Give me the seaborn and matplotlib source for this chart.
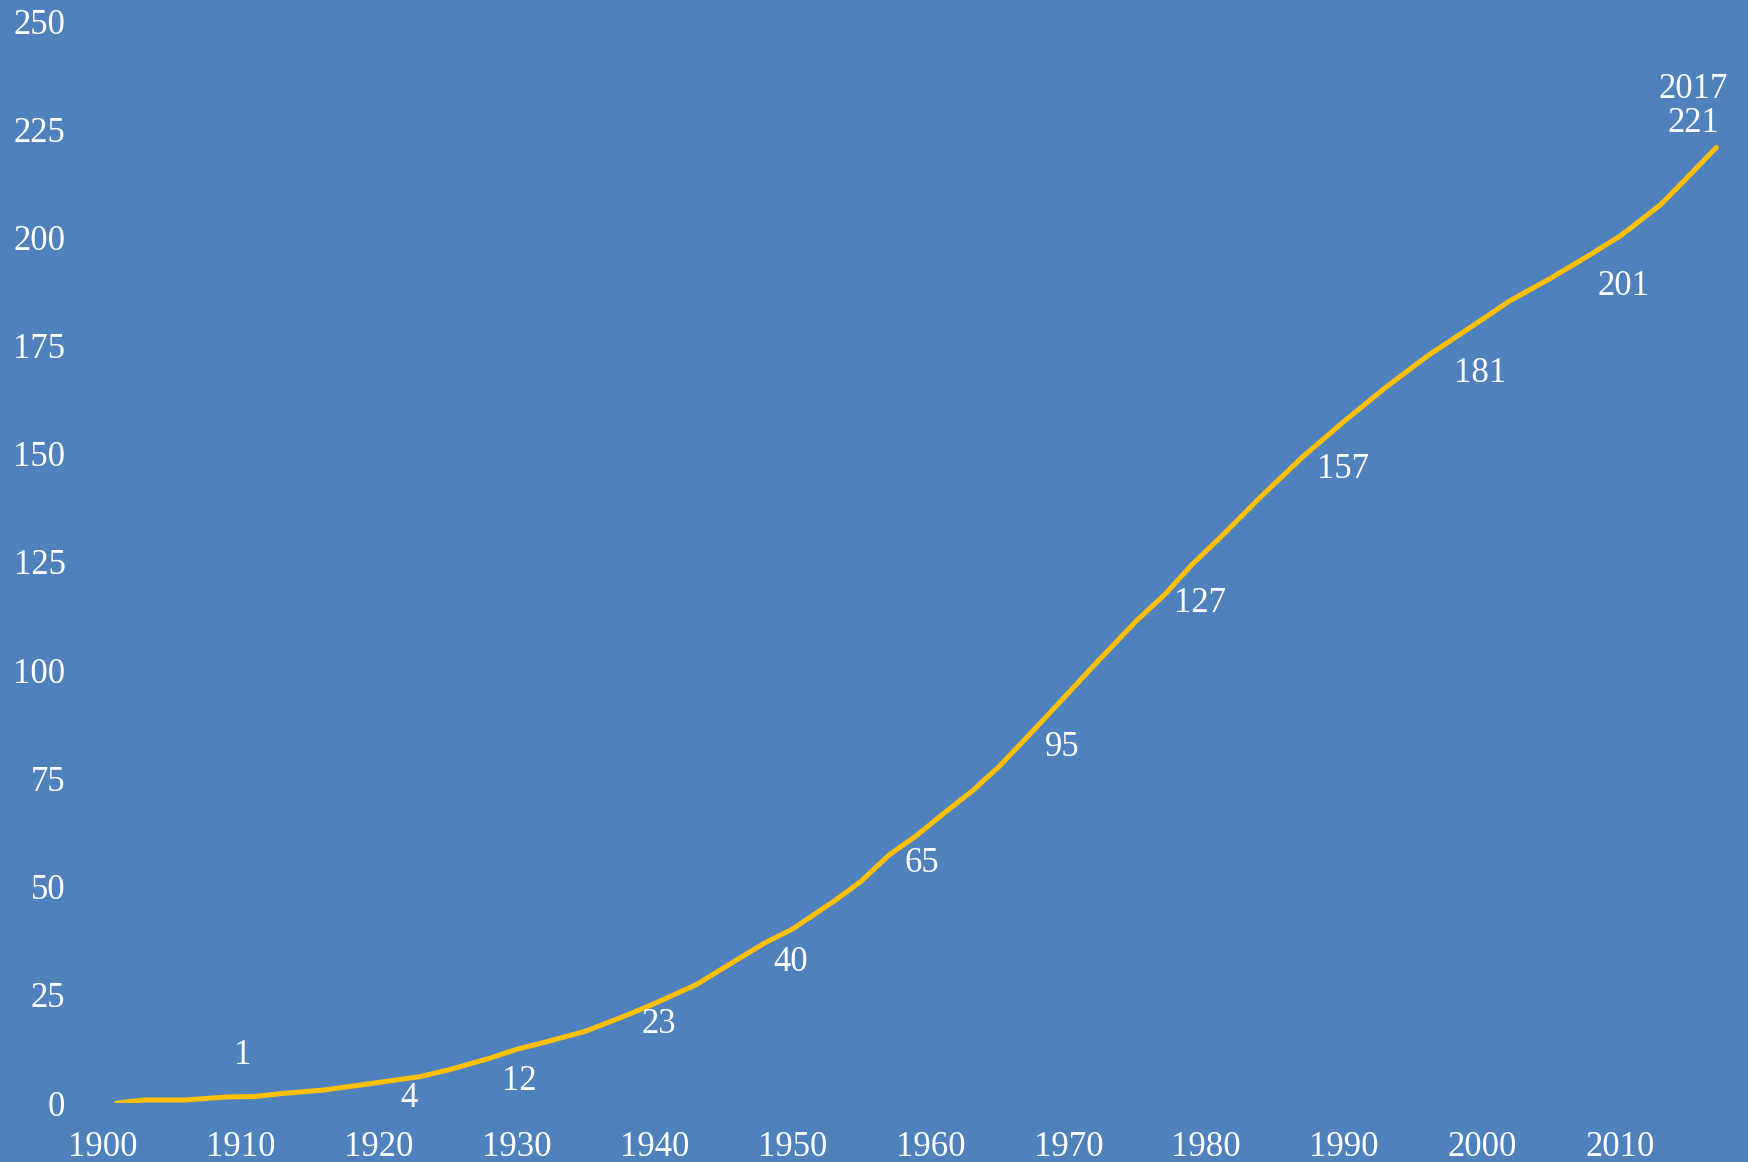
import numpy as np
import pandas as pd
import matplotlib
matplotlib.use("Agg")
import matplotlib.pyplot as plt
import seaborn as sns

# valores
years = [1901, 1903, 1906, 1909, 1911, 1913, 1916, 1919, 1923, 1925, 1928, 1930,
         1932, 1935, 1938, 1940, 1943, 1945, 1948, 1950, 1953, 1955, 1957, 1959,
         1961, 1963, 1965, 1967, 1970, 1972, 1975, 1977, 1979, 1981, 1984, 1987,
         1990, 1993, 1996, 2000, 2002, 2005, 2008, 2010, 2011, 2013, 2015, 2017]
values = [0, 0.7, 0.7, 1.4, 1.5, 2.2, 3, 4.3, 6.1, 7.6, 10.3, 12.4,
          14, 16.6, 20.3, 23, 27.3, 31.2, 37, 40.2, 46.6, 51.3, 57.3, 61.8,
          67, 72, 77.8, 84.5, 94.7, 101.6, 111.6, 117.5, 124.5, 130.6, 140.2, 149.3,
          157.5, 165.3, 172.5, 181, 185.3, 190.6, 196.3, 200.3, 202.7, 207.7, 214.2, 220.8]

label_years = [1910, 1920, 1930, 1940, 1950, 1960, 1970, 1980, 1990, 2000, 2010, 2017]
label_values = [1, 4, 12, 23, 40, 65, 95, 127, 157, 181, 201, 221]
label_texts = ["1", "4", "12", "23", "40", "65", "95", "127", "157", "181", "201", "2017\n221"]
# desplazamientos en pixeles (dx, dy hacia arriba)
label_offsets = [(2, 43), (30, -13), (3, -30), (4, -21), (-2, -33), (-9, -42),
                 (-6, -56), (-6, -50), (-1, -46), (-2, -54), (4, -53), (-23, 40)]

x_ticks = list(range(1900, 2011, 10))
y_ticks = list(range(0, 251, 25))

bg = "#4F81BD"
line_color = "#FFC000"

sns.set_theme(style="white")
plt.rcParams["font.family"] = ["Liberation Serif", "DejaVu Serif"]

df = pd.DataFrame({"year": years, "value": values})

fig = plt.figure(figsize=(17.49, 11.62), dpi=100, facecolor=bg)
W, H = 1749, 1162
px_year = 13.79
ax = fig.add_axes([103 / W, 59 / H, px_year * 117.5 / W, 1082 / H])
ax.set_facecolor(bg)

sns.lineplot(data=df, x="year", y="value", ax=ax, color=line_color, linewidth=3.6)

ax.set_xlim(1900, 2017.5)
ax.set_ylim(0, 250)
ax.set_xticks(x_ticks)
ax.set_yticks(y_ticks)
ax.set_xlabel("")
ax.set_ylabel("")
ax.tick_params(axis="both", length=0, colors="white", labelsize=25)
ax.tick_params(axis="y", pad=27)
ax.tick_params(axis="x", pad=20)
for s in ax.spines.values():
    s.set_visible(False)
ax.grid(False)

for yr, v, t, (dx, dy) in zip(label_years, label_values, label_texts, label_offsets):
    ax.annotate(t, xy=(yr, v), xytext=(dx, dy), textcoords="offset pixels",
                ha="center", va="center", color="white", fontsize=25,
                linespacing=1.05, annotation_clip=False)

fig.savefig("out.png", dpi=100, facecolor=bg)
